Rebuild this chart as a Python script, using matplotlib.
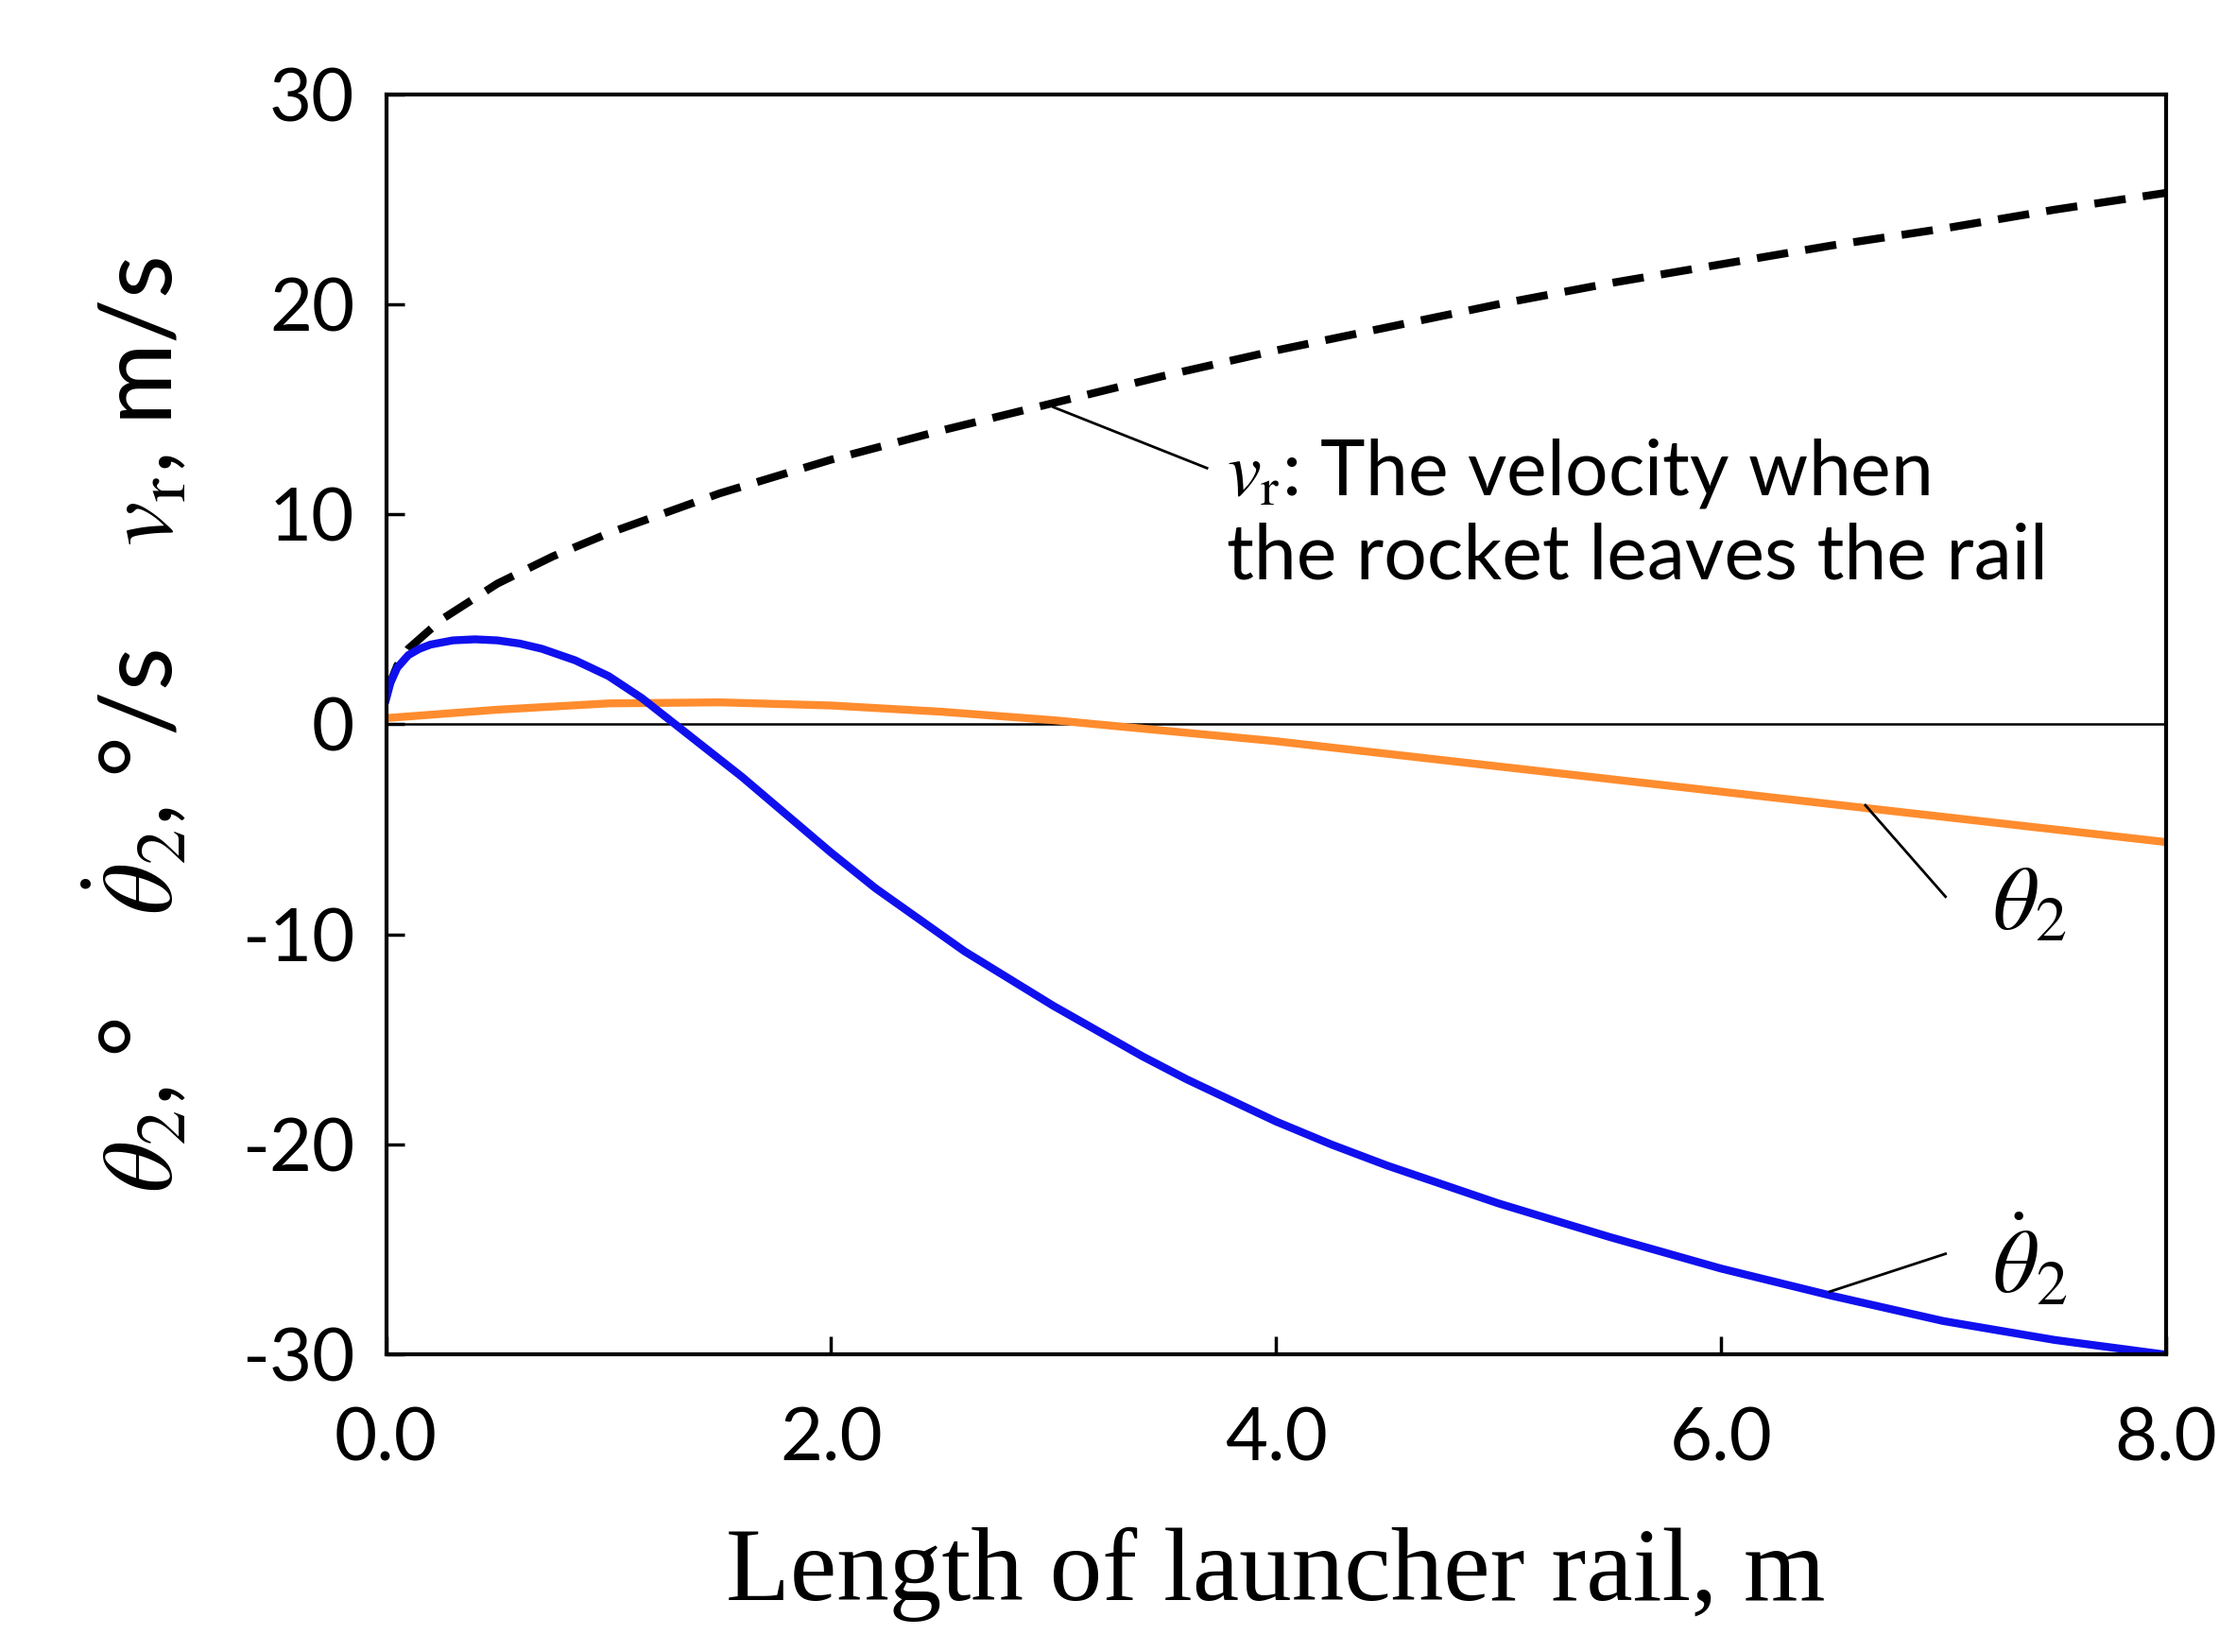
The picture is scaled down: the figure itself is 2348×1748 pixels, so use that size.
import matplotlib
matplotlib.use("Agg")
from matplotlib import pyplot as plt

plt.rcParams['font.family'] = ['Lato', 'DejaVu Sans']
plt.rcParams['mathtext.fontset'] = 'stix'
plt.rcParams['axes.unicode_minus'] = False

x_vr = [0.0, 0.05, 0.1, 0.25, 0.5, 0.75, 1.0, 1.5, 2.0, 2.5, 3.0, 3.5, 4.0, 4.5, 5.0, 5.5, 6.0, 6.5, 7.0, 7.5, 8.0]
vr = [1.5, 2.8, 3.6, 5.0, 6.7, 8.0, 9.1, 11.0, 12.6, 14.0, 15.3, 16.6, 17.8, 18.9, 20.0, 21.0, 21.9, 22.8, 23.6, 24.5, 25.3]

x_dot = [0.0, 0.02, 0.05, 0.1, 0.15, 0.2, 0.3, 0.4, 0.5, 0.6, 0.7, 0.85, 1.0, 1.15, 1.3, 1.45, 1.6, 1.8, 2.0,
         2.2, 2.4, 2.6, 2.8, 3.0, 3.2, 3.4, 3.6, 3.8, 4.0, 4.25, 4.5, 4.75, 5.0, 5.5, 6.0, 6.5, 7.0, 7.5, 8.0]
theta_dot = [1.2, 2.0, 2.7, 3.3, 3.6, 3.8, 4.0, 4.05, 4.0, 3.85, 3.6, 3.05, 2.3, 1.25, 0.0, -1.25, -2.5, -4.3, -6.1,
             -7.8, -9.3, -10.8, -12.1, -13.4, -14.6, -15.8, -16.9, -17.9, -18.9, -20.0, -21.0, -21.9, -22.8,
             -24.4, -25.9, -27.2, -28.4, -29.3, -30.0]

x_th = [0.0, 0.5, 1.0, 1.5, 2.0, 2.5, 3.0, 3.5, 4.0, 5.0, 6.0, 7.0, 8.0]
theta = [0.3, 0.7, 1.0, 1.05, 0.9, 0.6, 0.2, -0.3, -0.8, -2.0, -3.2, -4.4, -5.6]

fig, ax = plt.subplots(figsize=(23.48, 17.48), dpi=100)
fig.subplots_adjust(left=0.174, right=0.976, bottom=0.180, top=0.943)

ax.axhline(0, color='black', lw=1.8)
ax.plot(x_vr, vr, color='black', lw=6, ls=(0, (4, 2.2)))
ax.plot(x_th, theta, color='#ff8c2e', lw=6)
ax.plot(x_dot, theta_dot, color='#1010ee', lw=6, solid_joinstyle='round')

ax.set_xlim(0, 8)
ax.set_ylim(-30, 30)
ax.set_xticks([0, 2, 4, 6, 8])
ax.set_xticklabels(['0.0', '2.0', '4.0', '6.0', '8.0'])
ax.set_yticks([-30, -20, -10, 0, 10, 20, 30])
ax.tick_params(direction='in', labelsize=56, width=2.5, length=14)
ax.tick_params(axis='x', pad=40)
ax.tick_params(axis='y', pad=24)
for s in ax.spines.values():
    s.set_linewidth(3)

ax.set_xlabel('Length of launcher rail, m', family='Liberation Serif', fontsize=80, labelpad=40)
ax.set_ylabel(r'$\theta_2$, °    $\dot{\theta}_2$, °/s    $v_\mathrm{r}$, m/s', fontsize=76, labelpad=40)

ax.plot([3.0, 3.69], [15.1, 12.2], color='black', lw=2)
ax.text(3.78, 10.0, '$v_\\mathrm{r}$: The velocity when\nthe rocket leaves the rail',
        fontsize=58, va='center', ha='left', linespacing=1.2)
ax.plot([6.65, 7.01], [-3.85, -8.2], color='black', lw=2)
ax.text(7.22, -8.6, r'$\theta_2$', fontsize=68, va='center')
ax.plot([6.49, 7.01], [-27.0, -25.2], color='black', lw=2)
ax.text(7.22, -25.5, r'$\dot{\theta}_2$', fontsize=68, va='center')

fig.savefig('out.png', dpi=100)
